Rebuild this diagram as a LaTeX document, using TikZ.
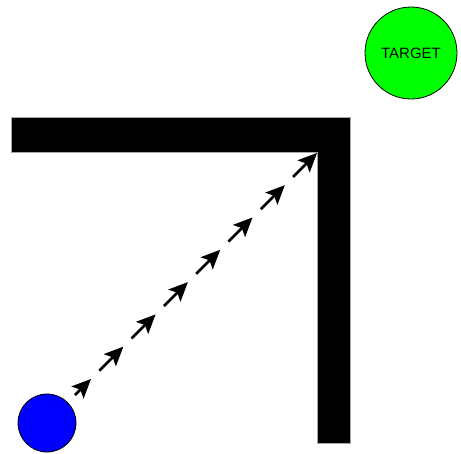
\documentclass[tikz,border=0pt]{standalone}
\usepackage{fontspec}
\setmainfont{Liberation Sans}
\usetikzlibrary{arrows.meta}
\begin{document}
\begin{tikzpicture}[x=1pt,y=-1pt,
  wall/.style={fill=black,draw=gray!70,line width=0.6pt},
  ball/.style={circle,draw=black,line width=0.8pt,inner sep=0pt},
  move/.style={line width=2.5pt,-{Stealth[length=19pt,width=17pt,inset=4pt]}}]
\useasboundingbox (0,0) rectangle (461,453);
\fill[white] (0,0) rectangle (461,453);
\draw[wall] (11,117) -- (350,117) -- (350,443) -- (317,443) -- (317,152) -- (11,152) -- cycle;
\node[ball,fill=green,minimum size=92pt,font=\fontsize{15}{17}\selectfont] (target) at (411,53) {TARGET};
\node[ball,fill=blue,minimum size=58pt] (agent) at (47,423) {};
\coordinate (c0) at (75,395);
\draw[move] (c0) -- (91,379);
\foreach \k in {1,...,7}{
  \coordinate (t\k) at ({91+\k*32.3-24},{379-\k*32.3+24});
  \coordinate (h\k) at ({91+\k*32.3},{379-\k*32.3});
  \draw[move] (t\k) -- (h\k);
}
\end{tikzpicture}
\end{document}
